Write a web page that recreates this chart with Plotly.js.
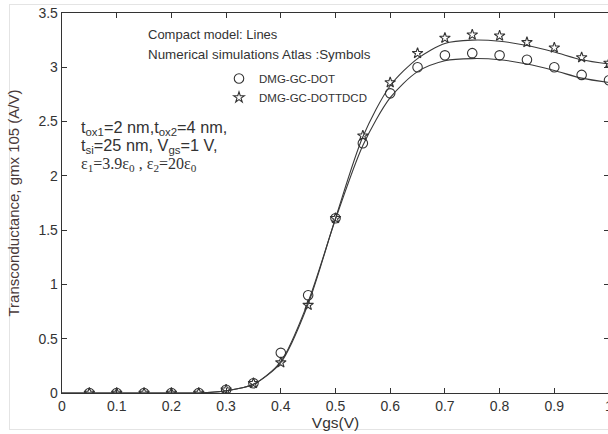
<!DOCTYPE html>
<html>
<head>
<meta charset="utf-8">
<script src="https://cdn.plot.ly/plotly-3.0.1.min.js"></script>
<style>
  html, body { margin: 0; padding: 0; background: #fff; overflow: hidden; width: 608px; height: 434px; }
  #frame { position: absolute; left: 9px; top: 4px; width: 640px; height: 426px; border: 1px solid #e4e4e4; box-sizing: border-box; }
  #chart { position: absolute; left: 0; top: 0; }
</style>
</head>
<body>
<div id="frame"></div>
<div id="chart"></div>
<script>
// Symbols (numerical simulations, Atlas)
var vgsSym = [0.05, 0.1, 0.15, 0.2, 0.25, 0.3, 0.35, 0.4, 0.45, 0.5, 0.55, 0.6, 0.65, 0.7, 0.75, 0.8, 0.85, 0.9, 0.95, 1.0];
var dotSym = [0, 0, 0, 0, 0, 0.03, 0.09, 0.37, 0.90, 1.61, 2.30, 2.76, 3.00, 3.11, 3.13, 3.11, 3.07, 3.00, 2.93, 2.88];
var tdcdSym = [0, 0, 0, 0, 0, 0.03, 0.09, 0.28, 0.81, 1.61, 2.37, 2.86, 3.13, 3.27, 3.30, 3.29, 3.23, 3.18, 3.09, 3.04];

// Lines (compact model)
var vgsLine = [0, 0.05, 0.1, 0.15, 0.2, 0.25, 0.3, 0.35, 0.4, 0.45, 0.5, 0.55, 0.6, 0.65, 0.7, 0.75, 0.8, 0.85, 0.9, 0.95, 1.0];
var dotLine = [0, 0, 0, 0, 0, 0, 0.02, 0.08, 0.29, 0.84, 1.60, 2.28, 2.72, 2.96, 3.06, 3.08, 3.07, 3.03, 2.97, 2.90, 2.86];
var tdcdLine = [0, 0, 0, 0, 0, 0, 0.02, 0.08, 0.28, 0.82, 1.61, 2.36, 2.83, 3.08, 3.22, 3.25, 3.24, 3.20, 3.14, 3.07, 3.03];

var seriesNames = ["DMG-GC-DOT", "DMG-GC-DOTTDCD"];
var xTitle = "Vgs(V)";
var yTitle = "Transconductance, gmx 105 (A/V)";

var ink = "#333333";
var sans = "Liberation Sans, Arial, sans-serif";
var serif = "Liberation Serif, Times New Roman, serif";

var traces = [
  { x: vgsLine, y: dotLine, mode: "lines", line: { color: "#3a3a3a", width: 1.1, shape: "spline", smoothing: 0.8 }, showlegend: false, hoverinfo: "skip" },
  { x: vgsLine, y: tdcdLine, mode: "lines", line: { color: "#3a3a3a", width: 1.1, shape: "spline", smoothing: 0.8 }, showlegend: false, hoverinfo: "skip" },
  { x: vgsSym, y: dotSym, mode: "markers", name: seriesNames[0], marker: { symbol: "circle-open", size: 9.5, color: ink, line: { width: 1.1, color: ink } } },
  { x: vgsSym, y: tdcdSym, mode: "markers", name: seriesNames[1], marker: { symbol: "star-open", size: 8, color: ink, line: { width: 1.1, color: ink } } }
];

var W = 630, H = 434;
var L = 62, R = 609, T = 13, B = 393;
function px(x) { return (x - L) / (R - L); }
function py(y) { return (B - y) / (B - T); }

var layout = {
  width: W, height: H,
  margin: { l: L, r: W - R, t: T, b: H - B, pad: 0 },
  paper_bgcolor: "rgba(0,0,0,0)",
  plot_bgcolor: "#ffffff",
  font: { family: sans, color: ink, size: 14 },
  xaxis: {
    range: [0, 1], dtick: 0.1, tick0: 0,
    ticks: "inside", ticklen: 5, tickwidth: 1, tickcolor: ink,
    showline: true, linecolor: ink, linewidth: 1.3, mirror: "ticks",
    showgrid: false, zeroline: false,
    tickfont: { size: 14, color: ink },
    title: { text: xTitle, font: { size: 15.5, color: ink }, standoff: 2 }
  },
  yaxis: {
    range: [0, 3.5], dtick: 0.5, tick0: 0,
    ticks: "inside", ticklen: 5, tickwidth: 1, tickcolor: ink,
    showline: true, linecolor: ink, linewidth: 1.3, mirror: "ticks",
    showgrid: false, zeroline: false,
    tickfont: { size: 14, color: ink },
    title: { text: yTitle, font: { size: 15, color: "#4a3a3a" }, standoff: 15 }
  },
  legend: {
    x: px(219), y: py(64), xanchor: "left", yanchor: "top",
    bgcolor: "rgba(0,0,0,0)", borderwidth: 0,
    font: { size: 11.5, color: ink, family: sans },
    tracegroupgap: 0, itemwidth: 30
  },
  annotations: [
    { xref: "paper", yref: "paper", x: px(146), y: py(35), xanchor: "left", yanchor: "middle", showarrow: false,
      text: "Compact model: Lines", font: { size: 13, color: ink, family: sans } },
    { xref: "paper", yref: "paper", x: px(146), y: py(54), xanchor: "left", yanchor: "middle", showarrow: false,
      text: "Numerical simulations Atlas :Symbols", font: { size: 13.4, color: ink, family: sans } },
    { xref: "paper", yref: "paper", x: px(79), y: py(128), xanchor: "left", yanchor: "middle", showarrow: false,
      text: "t<sub>ox1</sub>=2 nm,t<sub>ox2</sub>=4 nm,", font: { size: 16.3, color: ink, family: sans } },
    { xref: "paper", yref: "paper", x: px(79), y: py(146), xanchor: "left", yanchor: "middle", showarrow: false,
      text: "t<sub>si</sub>=25 nm, V<sub>gs</sub>=1 V,", font: { size: 16.3, color: ink, family: sans } },
    { xref: "paper", yref: "paper", x: px(79), y: py(164), xanchor: "left", yanchor: "middle", showarrow: false,
      text: "ε<sub>1</sub>=3.9ε<sub>0</sub> , ε<sub>2</sub>=20ε<sub>0</sub>", font: { size: 16, color: ink, family: serif } }
  ]
};

Plotly.newPlot("chart", traces, layout, { displayModeBar: false, staticPlot: true });
</script>
</body>
</html>
